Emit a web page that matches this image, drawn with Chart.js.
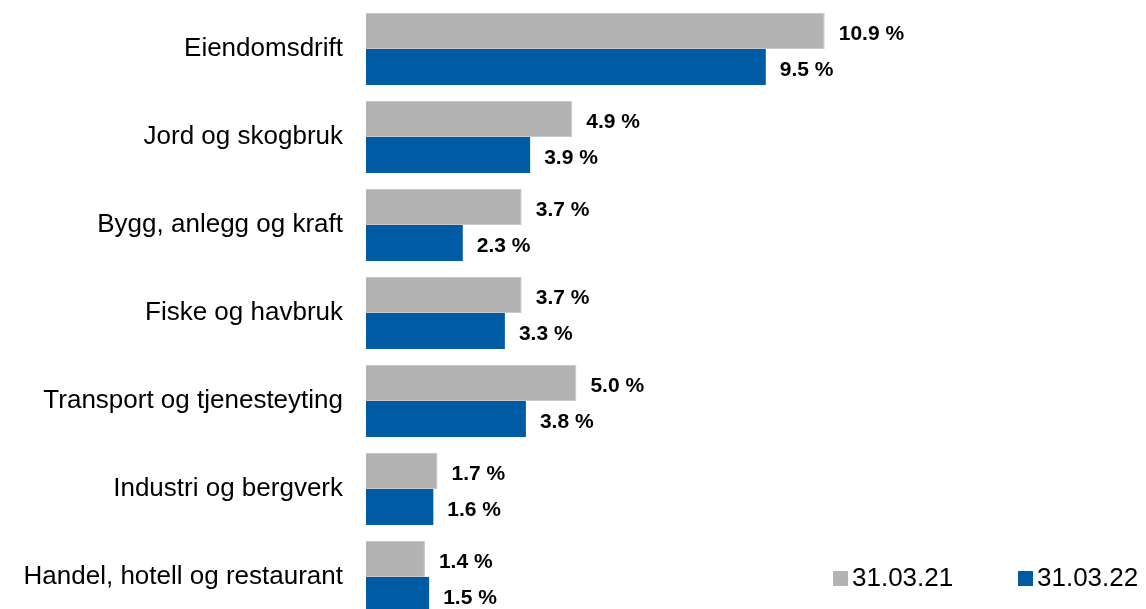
<!DOCTYPE html>
<html>
<head>
<meta charset="utf-8">
<script src="https://cdn.jsdelivr.net/npm/chart.js@4"></script>
<style>
  html, body { margin: 0; padding: 0; overflow: hidden; background: #fff; }
  canvas { display: block; }
</style>
</head>
<body>
<canvas id="chart" width="1146" height="630"></canvas>
<script>
// data
const categories = ['Eiendomsdrift', 'Jord og skogbruk', 'Bygg, anlegg og kraft', 'Fiske og havbruk',
  'Transport og tjenesteyting', 'Industri og bergverk', 'Handel, hotell og restaurant'];
const seriesNames = ['31.03.21', '31.03.22'];
const values21 = [10.9, 4.9, 3.7, 3.7, 5.0, 1.7, 1.4];
const values22 = [9.5, 3.9, 2.3, 3.3, 3.8, 1.6, 1.5];

const GRAY = '#b3b3b3';
const BLUE = '#005ba5';
const FONT = '"Liberation Sans", Arial, sans-serif';

// value labels at bar ends
const valueLabels = {
  id: 'valueLabels',
  afterDatasetsDraw(chart) {
    const ctx = chart.ctx;
    ctx.save();
    ctx.font = 'bold 21px ' + FONT;
    ctx.fillStyle = '#000';
    ctx.textBaseline = 'middle';
    ctx.textAlign = 'left';
    chart.data.datasets.forEach((ds, i) => {
      chart.getDatasetMeta(i).data.forEach((bar, j) => {
        ctx.fillText(ds.data[j].toFixed(1) + ' %', bar.x + 14, bar.y + 3);
      });
    });
    ctx.restore();
  }
};

// legend bottom right
const legendBox = {
  id: 'legendBox',
  afterDraw(chart) {
    const ctx = chart.ctx;
    ctx.save();
    ctx.font = '26px ' + FONT;
    ctx.textBaseline = 'middle';
    const items = [{ x: 833, color: GRAY }, { x: 1018, color: BLUE }];
    items.forEach((it, i) => {
      ctx.fillStyle = it.color;
      ctx.fillRect(it.x, 571, 15, 15);
      ctx.fillStyle = '#000';
      ctx.fillText(seriesNames[i], it.x + 19, 579);
    });
    ctx.restore();
  }
};

new Chart(document.getElementById('chart'), {
  type: 'bar',
  data: {
    labels: categories,
    datasets: [
      { label: seriesNames[0], data: values21, backgroundColor: GRAY, borderColor: '#c9c9c9', borderWidth: 1,
        categoryPercentage: 0.82, barPercentage: 1 },
      { label: seriesNames[1], data: values22, backgroundColor: BLUE, borderWidth: 0,
        categoryPercentage: 0.82, barPercentage: 1 }
    ]
  },
  options: {
    indexAxis: 'y',
    responsive: false,
    animation: false,
    layout: { padding: { left: 0, right: 275, top: 5, bottom: 9 } },
    scales: {
      x: { display: false, min: 0, max: 12 },
      y: {
        grid: { display: false },
        border: { display: false },
        afterFit: scale => {
          scale.width = 366;
          scale.paddingTop = 0;
          scale.paddingBottom = 0;
        },
        ticks: {
          color: '#000',
          padding: 15,
          font: { size: 26, family: FONT }
        }
      }
    },
    plugins: {
      legend: { display: false },
      tooltip: { enabled: false }
    }
  },
  plugins: [valueLabels, legendBox]
});
</script>
</body>
</html>
